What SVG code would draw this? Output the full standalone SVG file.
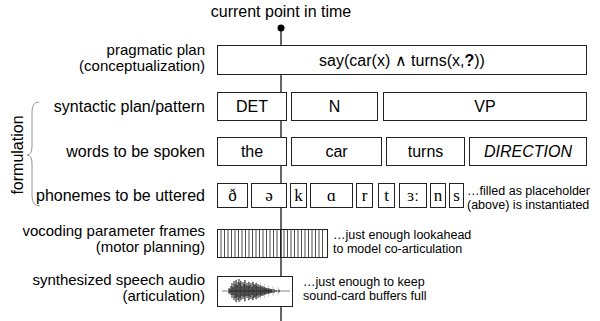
<svg xmlns="http://www.w3.org/2000/svg" width="600" height="321" viewBox="0 0 600 321">
<style>
text{font-family:"Liberation Sans",Arial,sans-serif;fill:#000}
.lbl{font-size:16px;text-anchor:end}
.lbl2{font-size:15px;text-anchor:end}
.box{fill:#fff;stroke:#222;stroke-width:1}
.in{font-size:16px;text-anchor:middle}
.ph{font-family:"Liberation Serif","DejaVu Serif",serif;font-size:17px;text-anchor:middle}
.note{font-size:12.5px}
</style>
<g id="connectors">
<line x1="281" y1="28" x2="281" y2="321" stroke="#000" stroke-width="1.2"/>
<circle cx="281" cy="28" r="3.5" fill="#000"/>
</g>
<g id="time-label"><text class="in" x="281" y="17">current point in time</text></g>
<g id="formulation">
<path d="M39 102 Q32 102 32 112 L32 146 Q32 155 27 155 Q32 155 32 164 L32 196 Q32 206 40 206" fill="none" stroke="#888" stroke-width="0.9"/>
<text class="in" transform="translate(23,155) rotate(-90)">formulation</text>
</g>
<g id="labels">
<text class="lbl2" x="205" y="55">pragmatic plan</text>
<text class="lbl2" x="205" y="71">(conceptualization)</text>
<text class="lbl" x="205" y="112">syntactic plan/pattern</text>
<text class="lbl" x="205" y="157">words to be spoken</text>
<text class="lbl" x="205" y="201">phonemes to be uttered</text>
<text class="lbl2" x="205" y="236">vocoding parameter frames</text>
<text class="lbl2" x="205" y="252">(motor planning)</text>
<text class="lbl2" x="205" y="285">synthesized speech audio</text>
<text class="lbl2" x="205" y="301">(articulation)</text>
</g>
<g id="pragmatic">
<rect class="box" x="217.5" y="45.5" width="369" height="29"/>
<text class="in" x="402" y="66">say(car(x) ∧ turns(x,<tspan font-weight="bold">?</tspan>))</text>
</g>
<g id="syntactic">
<rect class="box" x="217.5" y="92.5" width="69" height="28"/>
<text class="in" x="252" y="112">DET</text>
<rect class="box" x="291.5" y="92.5" width="86" height="28"/>
<text class="in" x="334.5" y="112">N</text>
<rect class="box" x="383.5" y="92.5" width="203" height="28"/>
<text class="in" x="485" y="112">VP</text>
</g>
<g id="words">
<rect class="box" x="217.5" y="137.5" width="69" height="28"/>
<text class="in" x="252" y="157">the</text>
<rect class="box" x="291.5" y="137.5" width="90" height="28"/>
<text class="in" x="336.5" y="157">car</text>
<rect class="box" x="386.5" y="137.5" width="78" height="28"/>
<text class="in" x="425.5" y="157">turns</text>
<rect class="box" x="469.5" y="137.5" width="117" height="28"/>
<text class="in" x="528" y="157" font-style="italic">DIRECTION</text>
</g>
<g id="phonemes">
<rect class="box" x="217.5" y="183.5" width="30" height="24"/><text class="ph" x="232.5" y="201">ð</text>
<rect class="box" x="251.5" y="183.5" width="35" height="24"/><text class="ph" x="269" y="201">ə</text>
<rect class="box" x="290.5" y="183.5" width="16" height="24"/><text class="ph" x="298.5" y="201">k</text>
<rect class="box" x="310.5" y="183.5" width="42" height="24"/><text class="ph" x="331.5" y="201">ɑ</text>
<rect class="box" x="356.5" y="183.5" width="16" height="24"/><text class="ph" x="364.5" y="201">r</text>
<rect class="box" x="378.5" y="183.5" width="16" height="24"/><text class="ph" x="386.5" y="201">t</text>
<rect class="box" x="399.5" y="183.5" width="27" height="24"/><text class="ph" x="413" y="201">ɜː</text>
<rect class="box" x="430.5" y="183.5" width="15" height="24"/><text class="ph" x="438" y="201">n</text>
<rect class="box" x="449.5" y="183.5" width="14" height="24"/><text class="ph" x="456.5" y="201">s</text>
<text class="note" x="467" y="195">…filled as placeholder</text>
<text class="note" x="467" y="208.5">(above) is instantiated</text>
</g>
<g id="frames">
<rect class="box" x="217.5" y="229.5" width="110" height="28"/>
<path fill="none" stroke="#222" stroke-width="0.8" d="M221 229.5v28m3.5-28v28m3.5-28v28m3.5-28v28m3.5-28v28m3.5-28v28m3.5-28v28m3.5-28v28m3.5-28v28m3.5-28v28m3.5-28v28m3.5-28v28m3.5-28v28m3.5-28v28m3.5-28v28m3.5-28v28m3.5-28v28m3.5-28v28m3.5-28v28m3.5-28v28m3.5-28v28m3.5-28v28m3.5-28v28m3.5-28v28m3.5-28v28m3.5-28v28m3.5-28v28m3.5-28v28m3.5-28v28m3.5-28v28"/>
<line x1="281" y1="229.5" x2="281" y2="257.5" stroke="#000" stroke-width="1.2"/>
<text class="note" x="333" y="239">…just enough lookahead</text>
<text class="note" x="333" y="252.5">to model co-articulation</text>
</g>
<g id="audio">
<rect class="box" x="217.5" y="276.5" width="75" height="30"/>
<path fill="none" stroke="#666" stroke-width="0.8" d="M222 291H290"/>
<path fill="none" stroke="#aaa" stroke-width="0.6" d="M236.5 279v24M240.5 280v22M244.5 280v22M248.5 281v20M252.5 281v20M256.5 282v18M260.5 283v16M264.5 284v14M268.5 285v12M273 286v10M278 287v8"/>
<path fill="none" stroke="#000" stroke-width="0.9" d="M229 288v6M230 289v4M231 286v9M232 283v15M233 287v8M234 281v19M235 284v14M236 280v22M237 285v12M238 282v18M239 279v23M240 283v15M241 281v19M242 286v10M243 282v17M244 284v13M245 280v21M246 285v11M247 283v15M248 286v10M249 282v18M250 285v12M251 283v16M252 287v8M253 282v18M254 284v14M255 285v12M256 283v16M257 286v10M258 284v14M259 287v8M260 285v12M261 286v10M262 287v8M263 286v10M264 288v6M265 287v8M266 288v6M267 288v6M268 289v4M269 288v6M270 289v4M271 289v4M272 289v4M274 289v4M276 290v2M279 289.5v3"/>
<text class="note" x="303" y="286">…just enough to keep</text>
<text class="note" x="303" y="299.5">sound-card buffers full</text>
</g>
</svg>
